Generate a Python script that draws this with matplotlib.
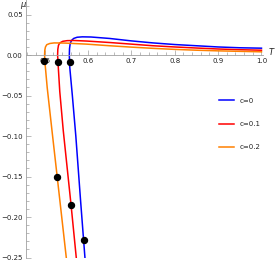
import matplotlib.pyplot as plt
from matplotlib.ticker import MultipleLocator

# curves (T, mu)
T_c0 = [0.593, 0.583, 0.572, 0.564, 0.558, 0.557, 0.5575, 0.559, 0.562, 0.567, 0.575, 0.587, 0.607,
        0.65, 0.70, 0.75, 0.80, 0.85, 0.90, 0.95, 1.0]
mu_c0 = [-0.25, -0.18, -0.10, -0.05, -0.015, 0.0, 0.008, 0.014, 0.018, 0.0205, 0.022, 0.0225, 0.0223,
         0.0205, 0.0175, 0.015, 0.013, 0.0115, 0.010, 0.009, 0.0085]

T_c1 = [0.573, 0.561, 0.543, 0.535, 0.531, 0.530, 0.5305, 0.532, 0.535, 0.542, 0.552, 0.567, 0.597,
        0.65, 0.70, 0.75, 0.80, 0.85, 0.90, 0.95, 1.0]
mu_c1 = [-0.25, -0.185, -0.093, -0.045, -0.01, 0.0, 0.007, 0.012, 0.015, 0.017, 0.0178, 0.018, 0.0173,
         0.0155, 0.0135, 0.0115, 0.010, 0.0087, 0.0075, 0.0066, 0.006]

T_c2 = [0.550, 0.529, 0.517, 0.506, 0.501, 0.500, 0.5005, 0.502, 0.505, 0.512, 0.522, 0.547, 0.597,
        0.65, 0.70, 0.75, 0.80, 0.85, 0.90, 0.95, 1.0]
mu_c2 = [-0.25, -0.15, -0.093, -0.04, -0.01, 0.0, 0.006, 0.010, 0.0128, 0.0143, 0.015, 0.0148, 0.0135,
         0.0115, 0.0098, 0.0083, 0.007, 0.006, 0.0052, 0.0046, 0.004]

# marked points
dots_T = [0.5575, 0.530, 0.4995, 0.591, 0.561, 0.529]
dots_mu = [-0.009, -0.008, -0.0075, -0.228, -0.185, -0.15]

labels = ["c=0", "c=0.1", "c=0.2"]
colors = ["#0000ff", "#ff0000", "#ff8000"]

x_ticks = [0.5, 0.6, 0.7, 0.8, 0.9, 1.0]
y_ticks = [-0.25, -0.20, -0.15, -0.10, -0.05, 0.0, 0.05]

fig = plt.figure(figsize=(2.75, 2.61), dpi=100)
ax = fig.add_axes([25.5 / 275, 3.5 / 261, 237.5 / 275, 257.5 / 261])

for T, mu, lab, col in zip([T_c0, T_c1, T_c2], [mu_c0, mu_c1, mu_c2], labels, colors):
    ax.plot(T, mu, color=col, lw=1.1, label=lab, solid_joinstyle="round")
ax.plot(dots_T, dots_mu, "o", color="black", ms=4.3, zorder=5)

ax.set_xlim(0.456, 1.0035)
ax.set_ylim(-0.25, 0.068)

ax.spines["top"].set_visible(False)
ax.spines["right"].set_visible(False)
ax.spines["bottom"].set_position(("data", 0))
for s in ["left", "bottom"]:
    ax.spines[s].set_color("#a0a0a0")
    ax.spines[s].set_linewidth(0.6)

ax.set_xticks(x_ticks)
ax.set_xticklabels([f"{v:.1f}" for v in x_ticks])
ax.set_yticks(y_ticks)
ax.set_yticklabels([f"{v:.2f}".replace("-", "\u2212") for v in y_ticks])
ax.xaxis.set_minor_locator(MultipleLocator(0.02))
ax.yaxis.set_minor_locator(MultipleLocator(0.01))
ax.tick_params(which="both", direction="in", color="#a0a0a0", width=0.5, labelsize=5,
               labelcolor="#222222")
ax.tick_params(which="major", length=3.5, pad=2)
ax.tick_params(which="minor", length=2)

ax.text(-3 / 237.5, 1.0, "\u03bc", transform=ax.transAxes, fontsize=6, style="italic",
        ha="center", va="top", color="#222222")
ax.annotate("T", xy=(1.0, 0), xycoords=("axes fraction", "data"), xytext=(6, 2),
            textcoords="offset points", fontsize=6, style="italic", ha="center", va="center",
            color="#222222")

fig.legend(loc="center left", bbox_to_anchor=(219 / 275, 1 - 124 / 261), frameon=False,
           fontsize=5, handlelength=2.2, handletextpad=0.7, labelspacing=2.5, borderpad=0,
           borderaxespad=0, labelcolor="#222222")

fig.savefig("out.png", dpi=100)
